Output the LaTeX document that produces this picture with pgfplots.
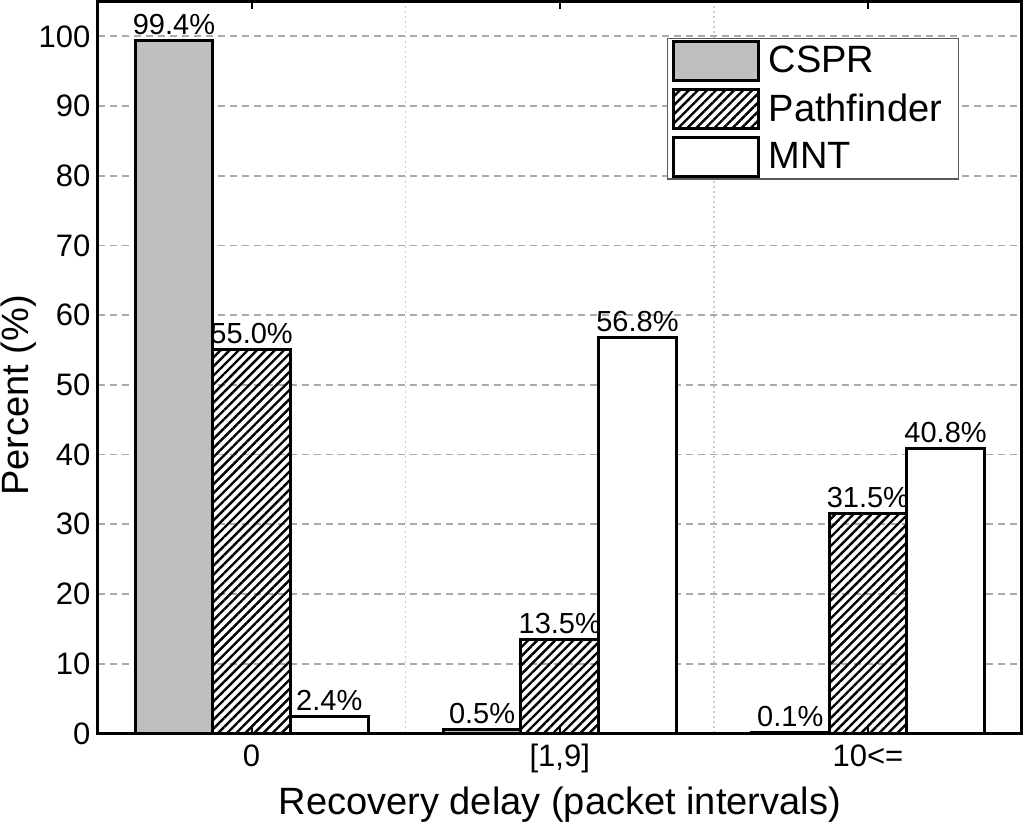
\documentclass[border=0pt]{standalone}
\usepackage{fontspec}
\setmainfont{Liberation Sans}
\usepackage{pgfplots}
\pgfplotsset{compat=1.18}
\usetikzlibrary{patterns.meta}

\definecolor{cspr}{RGB}{191,191,191}
\definecolor{gridgray}{RGB}{170,170,170}

\begin{document}
\begin{tikzpicture}
\begin{axis}[
    scale only axis,
    width=462pt, height=365.75pt,
    ybar=0pt,
    bar width=0.252,
    xmin=-0.5, xmax=2.5,
    ymin=0, ymax=105,
    xtick={0,1,2},
    xticklabels={0,{[1,9]},10<=},
    minor xtick={0.5,1.5},
    ytick={0,10,...,100},
    /pgf/number format/assume math mode=true,
    ymajorgrids, xminorgrids,
    major grid style={gridgray, line width=0.9pt, dash pattern=on 3.5pt off 2.5pt},
    minor grid style={gray!40, line width=0.7pt, dash pattern=on 1pt off 1.5pt},
    axis line style={line width=1.5pt},
    xtick style={line width=1pt, black},
    ytick style={draw=none},
    minor tick length=0pt,
    major tick length=4pt,
    tick align=inside,
    ticklabel style={font=\fontsize{15.5}{17}\selectfont},
    xticklabel style={anchor=base, yshift=-16.5pt},
    xlabel={Recovery delay (packet intervals)},
    ylabel={Percent (\%)},
    label style={font=\fontsize{19}{21}\selectfont},
    xlabel style={at={(axis description cs:0.5,-0.1107)}, anchor=base},
    ylabel style={at={(axis description cs:-0.0855,0.462)}, anchor=center, inner sep=0pt},
    nodes near coords={\pgfmathprintnumber[fixed,fixed zerofill,precision=1]{\pgfplotspointmeta}\%},
    every node near coord/.append style={font=\fontsize{14.5}{16}\selectfont, anchor=base, yshift=3pt, black},
    every axis plot/.append style={draw=black, line width=1.5pt},
    legend image code/.code={\draw[#1] (0pt,-9.75pt) rectangle (42pt,9.75pt);},
    legend style={at={(rel axis cs:0.9318,0.950)}, anchor=north east,
        draw=black!65, line width=0.7pt,
        font=\fontsize{19}{21}\selectfont,
        inner xsep=2.5pt, inner ysep=0.5pt, row sep=3pt,
        nodes={inner sep=0.6pt},
        /tikz/every odd column/.append style={column sep=4pt}},
    legend cell align=left,
]
\addplot[fill=cspr] coordinates {(0,99.4) (1,0.5) (2,0.1)};
\addplot[fill=white, pattern={Lines[angle=45, distance=3.2pt, line width=1.2pt]}, pattern color=black] coordinates {(0,55.0) (1,13.5) (2,31.5)};
\addplot[fill=white] coordinates {(0,2.4) (1,56.8) (2,40.8)};
\legend{CSPR, Pathfinder\hspace*{5pt}, MNT}
\end{axis}
\pgfresetboundingbox
\path[use as bounding box] (-48.75pt,-45.5pt) rectangle (463.5pt,366.5pt);
\end{tikzpicture}
\end{document}
